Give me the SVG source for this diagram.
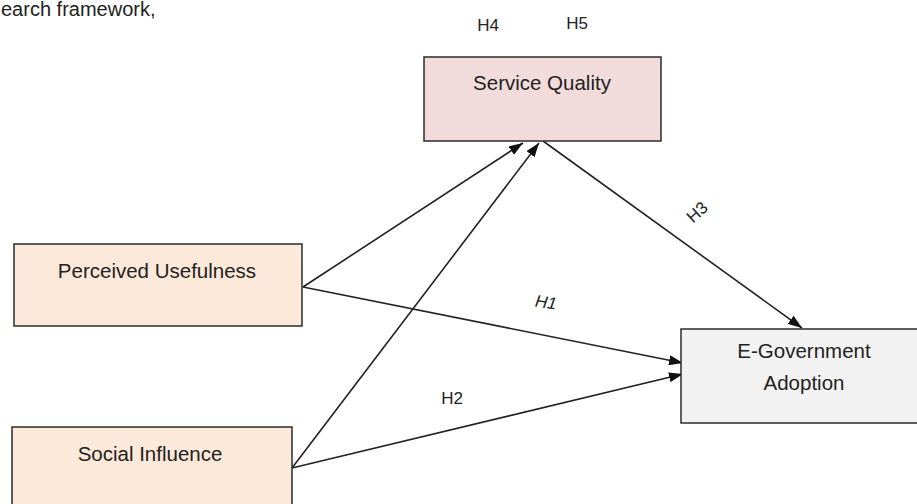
<svg xmlns="http://www.w3.org/2000/svg" width="917" height="504" viewBox="0 0 917 504">
<style>
text{font-family:"Liberation Sans",Arial,sans-serif;fill:#222}
.lbl{font-size:20.5px;text-anchor:middle}
.h{font-size:17px;text-anchor:middle}
.box{stroke:#2b2b2b;stroke-width:1.5}
.ln{stroke:#222;stroke-width:1.6;fill:none;marker-end:url(#ah)}
</style>
<defs>
<marker id="ah" viewBox="0 0 14 10" refX="14" refY="5" markerWidth="14" markerHeight="10" markerUnits="userSpaceOnUse" orient="auto">
<path d="M0,0 L14,5 L0,10 z" fill="#111"/>
</marker>
</defs>
<rect width="917" height="504" fill="#fff"/>
<text x="1" y="16" style="font-size:20px">earch framework,</text>
<text class="h" x="488" y="31">H4</text>
<text class="h" x="577" y="29">H5</text>
<g id="connectors">
<line class="ln" x1="303" y1="287" x2="523" y2="143"/>
<line class="ln" x1="292" y1="468" x2="539" y2="143"/>
<line class="ln" x1="303" y1="287" x2="683" y2="363"/>
<line class="ln" x1="292" y1="468" x2="683" y2="374"/>
<line class="ln" x1="543" y1="141" x2="802" y2="328"/>
<text class="h" transform="translate(697,212) rotate(-42)" y="6">H3</text>
<text class="h" transform="translate(546,302) rotate(8)" y="6" font-style="italic">H1</text>
<text class="h" x="452" y="404">H2</text>
</g>
<g id="service-quality">
<rect class="box" x="424" y="57" width="237" height="84" fill="#f2dcdb"/>
<text class="lbl" x="542" y="90">Service Quality</text>
</g>
<g id="perceived-usefulness">
<rect class="box" x="14" y="244" width="288" height="82" fill="#fde9d9"/>
<text class="lbl" x="157" y="278">Perceived Usefulness</text>
</g>
<g id="social-influence">
<rect class="box" x="12" y="427" width="280" height="90" fill="#fde9d9"/>
<text class="lbl" x="150" y="461">Social Influence</text>
</g>
<g id="e-government-adoption">
<rect class="box" x="681" y="329" width="250" height="94" fill="#f2f2f2"/>
<text class="lbl" x="804" y="358">E-Government</text>
<text class="lbl" x="804" y="390">Adoption</text>
</g>
</svg>
